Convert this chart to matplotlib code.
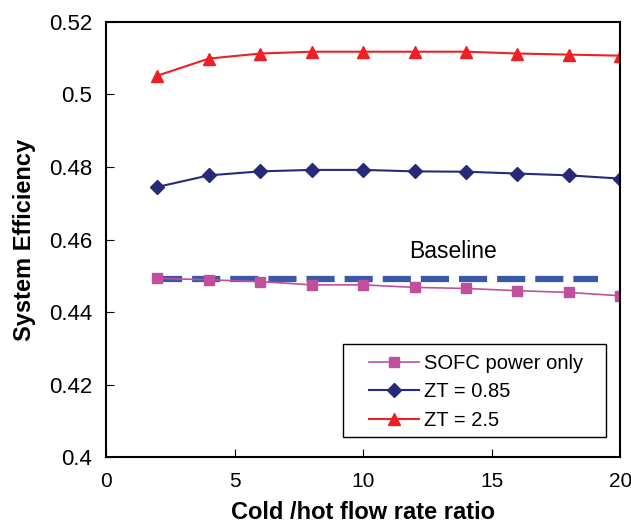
import numpy as np
import matplotlib
matplotlib.use("Agg")
from matplotlib import pyplot as plt
from matplotlib.patches import Rectangle

# Data
ratio = [2, 4, 6, 8, 10, 12, 14, 16, 18, 20]
sofc_only = [0.4493, 0.4489, 0.4484, 0.4475, 0.4475, 0.4468, 0.4465, 0.4459, 0.4454, 0.4445]
zt_085 = [0.4745, 0.4777, 0.4788, 0.4792, 0.4792, 0.4788, 0.4787, 0.4782, 0.4777, 0.4768]
zt_25 = [0.5052, 0.5099, 0.5113, 0.5118, 0.5118, 0.5118, 0.5118, 0.5113, 0.5110, 0.5107]
baseline_x = [1.85, 19.15]
baseline = [0.4490, 0.4490]

plt.rcParams['font.family'] = ['Liberation Sans', 'DejaVu Sans']

fig = plt.figure(figsize=(6.31, 5.23), dpi=100)
ax = fig.add_axes([0.168, 0.126, 0.815, 0.832])

ax.plot(baseline_x, baseline, color='#3a58a8', lw=4.5, dashes=(4.5, 1.6),
        dash_capstyle='butt')
ax.plot(ratio, sofc_only, color='#c04f9e', lw=1.2, marker='s', ms=7,
        label='SOFC power only')
ax.plot(ratio, zt_085, color='#262a78', lw=1.5, marker='D', ms=7,
        label='ZT = 0.85')
ax.plot(ratio, zt_25, color='#ee2024', lw=1.5, marker='^', ms=9,
        label='ZT = 2.5')

ax.text(11.8, 0.4566, 'Baseline', fontsize=16.5, va='center')

ax.set_xlim(0, 20)
ax.set_ylim(0.4, 0.52)
ax.set_xticks([0, 5, 10, 15, 20])
ax.set_yticks([0.4, 0.42, 0.44, 0.46, 0.48, 0.5, 0.52])
ax.set_yticklabels(['0.4', '0.42', '0.44', '0.46', '0.48', '0.5', '0.52'])
ax.tick_params(direction='in', length=6)
ax.tick_params(axis='x', labelsize=15, pad=11)
ax.tick_params(axis='y', labelsize=16, pad=10)
for s in ax.spines.values():
    s.set_linewidth(1.5)

ax.set_xlabel('Cold /hot flow rate ratio', fontsize=17, fontweight='bold', labelpad=7)
ax.set_ylabel('System Efficiency', fontsize=17, fontweight='bold', labelpad=9)

# legend: wide horizontal padding, so the frame is drawn separately
leg = ax.legend(loc='upper left', bbox_to_anchor=(0.512, 0.237), fontsize=14.5,
                frameon=False, handlelength=2.45, borderpad=0, borderaxespad=0,
                labelspacing=0.47, handletextpad=0.25)
ax.add_patch(Rectangle((0.461, 0.046), 0.512, 0.214, transform=ax.transAxes,
                       facecolor='none', edgecolor='black', lw=1.0, zorder=5))

fig.savefig('out.png', dpi=100)
